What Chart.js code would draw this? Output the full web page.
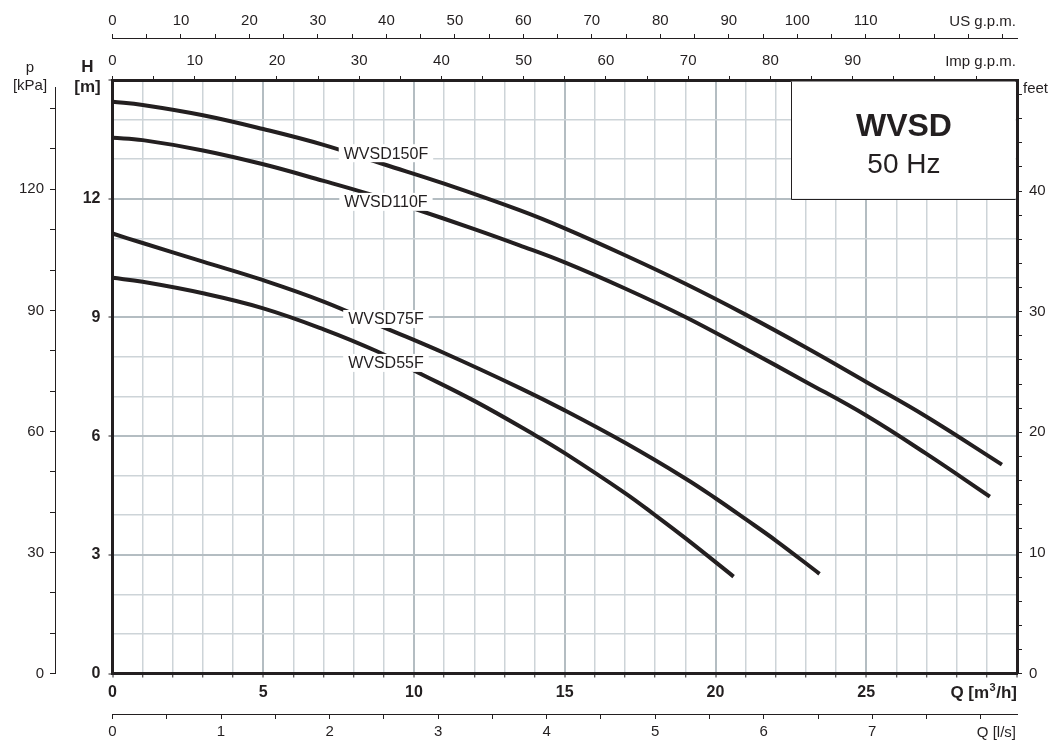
<!DOCTYPE html>
<html>
<head>
<meta charset="utf-8">
<title>WVSD 50 Hz</title>
<script src="https://cdn.jsdelivr.net/npm/chart.js@4.4.1/dist/chart.umd.min.js"></script>
<style>
  html, body { margin: 0; padding: 0; background: #fff; }
  #wrap { width: 1055px; height: 742px; }
</style>
</head>
<body>
<div id="wrap"><canvas id="pumpChart" width="1055" height="742"></canvas></div>
<script>
// pump curves: Q in m3/h, H in m
const models = ['WVSD150F', 'WVSD110F', 'WVSD75F', 'WVSD55F'];

const q150 = [0, 1, 3, 5, 7, 9, 11, 13.5, 15, 17, 19, 21, 23, 25, 27, 29.5];
const h150 = [14.45, 14.37, 14.11, 13.76, 13.36, 12.87, 12.38, 11.71, 11.25, 10.57, 9.85, 9.07, 8.24, 7.37, 6.49, 5.28];

const q110 = [0, 1, 3, 5, 7, 8.5, 10, 12, 13.5, 15, 17, 19, 21, 23, 25, 27, 29.1];
const h110 = [13.54, 13.48, 13.22, 12.87, 12.45, 12.12, 11.75, 11.23, 10.82, 10.39, 9.73, 9.01, 8.20, 7.37, 6.52, 5.55, 4.47];

const q75 = [0, 1, 3, 5, 7, 9, 11, 13.5, 15, 17, 19, 20, 21, 22, 23.45];
const h75 = [11.12, 10.88, 10.41, 9.94, 9.40, 8.75, 8.10, 7.22, 6.65, 5.83, 4.93, 4.43, 3.90, 3.36, 2.52];

const q55 = [0, 1, 3, 5, 7, 8.75, 10, 12, 14, 15, 17, 18, 19, 20.6];
const h55 = [10.0, 9.90, 9.61, 9.23, 8.70, 8.15, 7.66, 6.89, 6.03, 5.57, 4.56, 4.00, 3.42, 2.45];

// axis ranges and the tick labels printed on each axis
const qMax = 30;
const hMax = 15;
const qLabels = [0, 5, 10, 15, 20, 25];
const hLabels = [0, 3, 6, 9, 12];
const kpaLabels = [0, 30, 60, 90, 120];
const feetLabels = [0, 10, 20, 30, 40];
const usLabels = [0, 10, 20, 30, 40, 50, 60, 70, 80, 90, 100, 110];
const impLabels = [0, 10, 20, 30, 40, 50, 60, 70, 80, 90];
const lsLabels = [0, 1, 2, 3, 4, 5, 6, 7];

// unit conversions
const M3H_PER_USGPM = 0.2271247;
const M3H_PER_IMPGPM = 0.2727655;
const M3H_PER_LS = 3.6;
const KPA_PER_M = 9.80665;
const FT_PER_M = 3.28084;

const ink = '#231f20';
const gridMinor = '#cdd4d8';
const gridMajor = '#b4bdc2';
const FONT = "'Liberation Sans', Arial, Helvetica, sans-serif";
Chart.defaults.font.family = FONT;
Chart.defaults.color = ink;

const curves = [[q150, h150], [q110, h110], [q75, h75], [q55, h55]];

function pts(q, h) {
    return q.map((v, i) => ({ x: v, y: h[i] }));
}

function labelCb(list) {
    return v => list.includes(v) ? String(v) : '';
}

// evenly stepped ticks from 0 up to the scale max
function stepTicks(step) {
    return scale => {
        const out = [];
        for (let i = 0; i * step <= scale.max + 1e-9; i++) {
            out.push({ value: Math.round(i * step * 100) / 100 });
        }
        scale.ticks = out;
    };
}

function gridColorFor(major, last) {
    return ctx => {
        const v = ctx.tick ? ctx.tick.value : 0;
        if (v === 0 || v === last) return 'rgba(0,0,0,0)';
        return v % major === 0 ? gridMajor : gridMinor;
    };
}

function gridWidthFor(major) {
    return ctx => {
        const v = ctx.tick ? ctx.tick.value : 0;
        return v % major === 0 ? 2 : 1.5;
    };
}

function sideAxis(opts, step, labels, pad, size) {
    return Object.assign({
        type: 'linear',
        min: 0,
        afterBuildTicks: stepTicks(step),
        ticks: {
            autoSkip: false, maxRotation: 0, padding: pad,
            color: ink, font: { size: 15 }, callback: labelCb(labels)
        },
        grid: { drawOnChartArea: false, color: ink, tickColor: ink, tickLength: size, lineWidth: 1 },
        border: { color: ink, width: 1 }
    }, opts);
}

// white box with series name, and the rest of the text around the axes
const tagQ = 9.07;
const tagH = [13.15, 11.92, 8.96, 7.85];

const decorations = {
    id: 'decorations',
    beforeDatasetsDraw(chart) {
        const { ctx, chartArea, scales } = chart;
        const xl = scales.x.getPixelForValue(22.5);
        const yb = scales.y.getPixelForValue(12);
        const xr = chartArea.right - 1.5;
        const yt = chartArea.top + 1.5;
        ctx.save();
        ctx.fillStyle = '#fff';
        ctx.fillRect(xl, yt, xr - xl, yb - yt);
        ctx.strokeStyle = ink;
        ctx.lineWidth = 1;
        ctx.beginPath();
        ctx.moveTo(Math.round(xl) + 0.5, yt);
        ctx.lineTo(Math.round(xl) + 0.5, Math.round(yb) + 0.5);
        ctx.lineTo(xr, Math.round(yb) + 0.5);
        ctx.stroke();
        const cx = (xl + chartArea.right) / 2;
        ctx.fillStyle = ink;
        ctx.textAlign = 'center';
        ctx.textBaseline = 'alphabetic';
        ctx.font = 'bold 32px ' + FONT;
        ctx.fillText('WVSD', cx, 136);
        ctx.font = '28px ' + FONT;
        ctx.fillText('50 Hz', cx, 173);
        ctx.restore();
    },
    afterDatasetsDraw(chart) {
        const { ctx, scales } = chart;
        ctx.save();
        ctx.font = '16px ' + FONT;
        ctx.textAlign = 'center';
        ctx.textBaseline = 'middle';
        models.forEach((name, i) => {
            const x = scales.x.getPixelForValue(tagQ);
            const y = scales.y.getPixelForValue(tagH[i]);
            const w = ctx.measureText(name).width;
            ctx.fillStyle = '#fff';
            ctx.fillRect(x - w / 2 - 5, y - 9, w + 10, 18);
            ctx.fillStyle = ink;
            ctx.fillText(name, x, y + 1);
        });
        ctx.restore();
    },
    afterDraw(chart) {
        const { ctx } = chart;
        ctx.save();
        ctx.fillStyle = ink;
        ctx.textBaseline = 'alphabetic';

        // cover the top end of the kPa axis line, as on the sheet
        const kpa = chart.scales.kpa;
        ctx.fillStyle = '#fff';
        ctx.fillRect(kpa.right - 2, kpa.top - 2, 4, 9);
        ctx.fillStyle = ink;

        ctx.textAlign = 'center';
        ctx.font = '15px ' + FONT;
        ctx.fillText('p', 30, 72);
        ctx.fillText('[kPa]', 30, 90);
        ctx.font = 'bold 17px ' + FONT;
        ctx.fillText('H', 87.5, 72);
        ctx.fillText('[m]', 87.5, 92);

        ctx.textAlign = 'left';
        ctx.font = '15px ' + FONT;
        ctx.fillText('feet', 1023, 93);

        ctx.textAlign = 'right';
        ctx.fillText('US g.p.m.', 1016, 26);
        ctx.fillText('Imp g.p.m.', 1016, 66);
        ctx.fillText('Q [l/s]', 1016, 737);

        // Q [m3/h] with a raised 3
        const big = 'bold 17px ' + FONT;
        const small = 'bold 11px ' + FONT;
        ctx.font = big;
        const wA = ctx.measureText('Q [m').width;
        const wC = ctx.measureText('/h]').width;
        ctx.font = small;
        const wB = ctx.measureText('3').width;
        const x = 1016 - (wA + wB + wC);
        ctx.textAlign = 'left';
        ctx.font = big;
        ctx.fillText('Q [m', x, 698);
        ctx.font = small;
        ctx.fillText('3', x + wA + 0.5, 691);
        ctx.font = big;
        ctx.fillText('/h]', x + wA + wB + 1, 698);
        ctx.restore();
    }
};

new Chart(document.getElementById('pumpChart'), {
    type: 'line',
    data: {
        datasets: curves.map(([q, h], i) => ({
            label: models[i],
            data: pts(q, h),
            borderColor: ink,
            borderWidth: 4,
            pointRadius: 0,
            fill: false,
            tension: 0.4
        }))
    },
    options: {
        responsive: false,
        animation: false,
        layout: { padding: 0 },
        plugins: {
            legend: { display: false },
            tooltip: { enabled: false }
        },
        scales: {
            x: {
                type: 'linear', position: 'bottom', weight: 1,
                min: 0, max: qMax,
                afterBuildTicks: stepTicks(1),
                ticks: {
                    autoSkip: false, maxRotation: 0,
                    padding: 5, color: ink, font: { size: 16, weight: 'bold' },
                    callback: labelCb(qLabels)
                },
                grid: {
                    color: gridColorFor(5, qMax), lineWidth: gridWidthFor(5),
                    tickColor: ink, tickLength: 4, tickWidth: 1
                },
                border: { color: ink, width: 3 },
                afterFit: s => { s.height = 40.5; }
            },
            y: {
                type: 'linear', position: 'left', weight: 1,
                min: 0, max: hMax,
                afterBuildTicks: stepTicks(1),
                ticks: {
                    autoSkip: false,
                    padding: 8, color: ink, font: { size: 16, weight: 'bold' },
                    callback: labelCb(hLabels)
                },
                grid: {
                    color: gridColorFor(3, hMax), lineWidth: gridWidthFor(3),
                    tickColor: ctx => (ctx.tick && ctx.tick.value % 3 === 0) ? ink : 'rgba(0,0,0,0)',
                    tickLength: 4, tickWidth: 1
                },
                border: { color: ink, width: 3 },
                afterFit: s => { s.width = 57.5; }
            },
            kpa: sideAxis({
                axis: 'y', position: 'left', weight: 2,
                max: hMax * KPA_PER_M,
                afterFit: s => { s.width = 55; }
            }, 10, kpaLabels, 6, 5),
            feet: sideAxis({
                axis: 'y', position: 'right', weight: 1,
                max: hMax * FT_PER_M,
                border: { color: ink, width: 3 },
                afterFit: s => { s.width = 38; }
            }, 2, feetLabels, 7, 5),
            us: sideAxis({
                axis: 'x', position: 'top', weight: 2,
                max: qMax / M3H_PER_USGPM,
                afterFit: s => { s.height = 38; }
            }, 5, usLabels, 4, 4),
            imp: sideAxis({
                axis: 'x', position: 'top', weight: 1,
                max: qMax / M3H_PER_IMPGPM,
                border: { color: ink, width: 3 },
                afterFit: s => { s.height = 42; }
            }, 5, impLabels, 6, 4),
            ls: sideAxis({
                axis: 'x', position: 'bottom', weight: 2,
                max: qMax / M3H_PER_LS,
                afterFit: s => { s.height = 28; }
            }, 0.5, lsLabels, 4, 5)
        }
    },
    plugins: [decorations]
});
</script>
</body>
</html>
